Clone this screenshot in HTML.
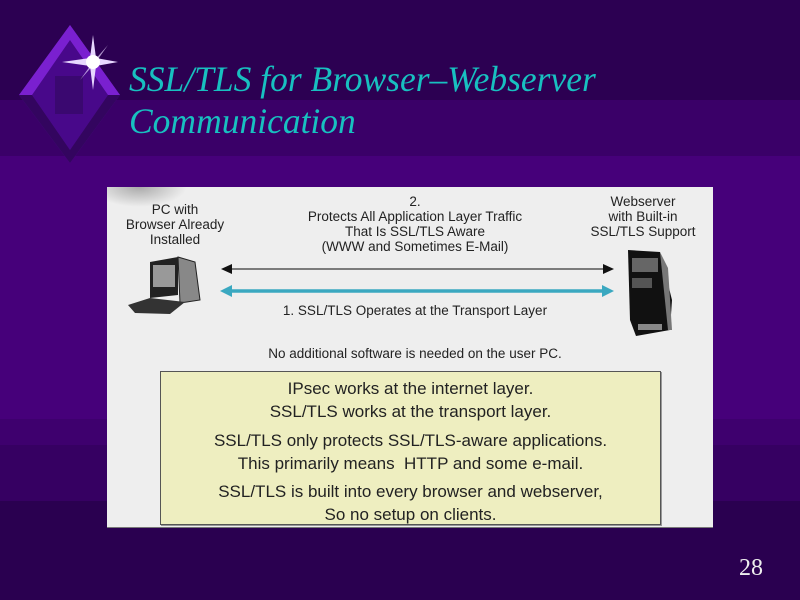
<!DOCTYPE html>
<html><head><meta charset="utf-8"><style>
body{margin:0;width:800px;height:600px;overflow:hidden;position:relative;background:#2a0050;font-family:"Liberation Sans",sans-serif}
.b{position:absolute;left:0;width:800px}
.t{position:absolute;font-family:"Liberation Serif",serif;font-style:italic;color:#18c0c0;font-size:35.5px;left:129px;white-space:nowrap}
.s{position:absolute;font-size:13.5px;color:#222;text-align:center;line-height:15px;white-space:nowrap}
.y{position:absolute;left:160px;top:371px;width:499px;height:152px;background:#eeeec0;border:1px solid #555;box-shadow:1px 1px 0 #999}
.y div{text-align:center;font-size:17px;color:#222;line-height:23px}
</style></head><body>
<div class="b" style="top:0;height:100px;background:#2c0052"></div>
<div class="b" style="top:100px;height:56px;background:#3a0068"></div>
<div class="b" style="top:156px;height:263px;background:#46007a"></div>
<div class="b" style="top:419px;height:26px;background:#3e006e"></div>
<div class="b" style="top:445px;height:56px;background:#360062"></div>
<div class="b" style="top:501px;height:99px;background:#2a0050"></div>

<svg style="position:absolute;left:0;top:0" width="140" height="170">
<polygon points="70,25 120,95 70,163 19,95" fill="#5a10a0"/>
<polygon points="70,25 120,95 19,95" fill="#7a20d0"/>
<polygon points="70,40 108,95 70,150 32,95" fill="#48088a"/>
<polygon points="19,95 70,163 120,95 108,95 70,150 32,95" fill="#33055f"/>
<rect x="55" y="76" width="28" height="38" fill="#3a0870"/>
<g fill="#e8d8ff">
<polygon points="93,35 96,58 118,62 96,66 93,90 90,66 62,62 90,58"/>
<polygon points="108,45 96,62 80,80 93,62" opacity=".7"/>
<polygon points="78,48 93,62 106,78 93,62" opacity=".7"/>
</g>
<circle cx="93" cy="62" r="7" fill="#fff"/>
</svg>

<div class="t" style="top:58px">SSL/TLS for Browser–Webserver</div>
<div class="t" style="top:100px">Communication</div>

<div style="position:absolute;left:107px;top:187px;width:606px;height:340px;background:#eeeeee;border-bottom:1px solid #777"></div>
<div style="position:absolute;left:107px;top:187px;width:80px;height:20px;background:radial-gradient(ellipse at 40% 0,#aaa,#eee 70%)"></div>

<div class="s" style="left:118px;top:202px;width:114px">PC with<br>Browser Already<br>Installed</div>
<div class="s" style="left:280px;top:194px;width:270px">2.<br>Protects All Application Layer Traffic<br>That Is SSL/TLS Aware<br>(WWW and Sometimes E-Mail)</div>
<div class="s" style="left:583px;top:194px;width:120px">Webserver<br>with Built-in<br>SSL/TLS Support</div>
<div class="s" style="left:240px;top:303px;width:350px">1. SSL/TLS Operates at the Transport Layer</div>
<div class="s" style="left:215px;top:346px;width:400px">No additional software is needed on the user PC.</div>

<svg style="position:absolute;left:0;top:0" width="800" height="600">
<line x1="228" y1="269" x2="606" y2="269" stroke="#555" stroke-width="1.5"/>
<polygon points="221,269 232,264 232,274" fill="#111"/>
<polygon points="614,269 603,264 603,274" fill="#111"/>
<line x1="228" y1="291" x2="606" y2="291" stroke="#3aa8c0" stroke-width="3.5"/>
<polygon points="220,291 232,285 232,297" fill="#3aa8c0"/>
<polygon points="614,291 602,285 602,297" fill="#3aa8c0"/>
<polygon points="150,262 178,257 178,295 150,298" fill="#222"/>
<rect x="153" y="265" width="22" height="22" fill="#999"/>
<polygon points="178,257 195,262 200,300 180,303" fill="#888" stroke="#222"/>
<polygon points="128,305 150,298 185,302 170,314 135,313" fill="#333"/>
<polygon points="628,250 660,252 672,300 670,330 636,336 630,320" fill="#111"/>
<polygon points="660,252 668,268 672,330 668,330" fill="#777"/>
<rect x="632" y="258" width="26" height="14" fill="#666"/>
<rect x="632" y="278" width="20" height="10" fill="#555"/>
<rect x="638" y="324" width="24" height="6" fill="#888"/>
</svg>

<div class="y">
<div style="margin-top:5px">IPsec works at the internet layer.<br>SSL/TLS works at the transport layer.</div>
<div style="margin-top:6px">SSL/TLS only protects SSL/TLS-aware applications.<br>This primarily means &nbsp;HTTP and some e-mail.</div>
<div style="margin-top:5px">SSL/TLS is built into every browser and webserver,<br>So no setup on clients.</div>
</div>

<div style="position:absolute;left:739px;top:555px;font-family:'Liberation Serif',serif;font-size:24px;color:#eee">28</div>
</body></html>
